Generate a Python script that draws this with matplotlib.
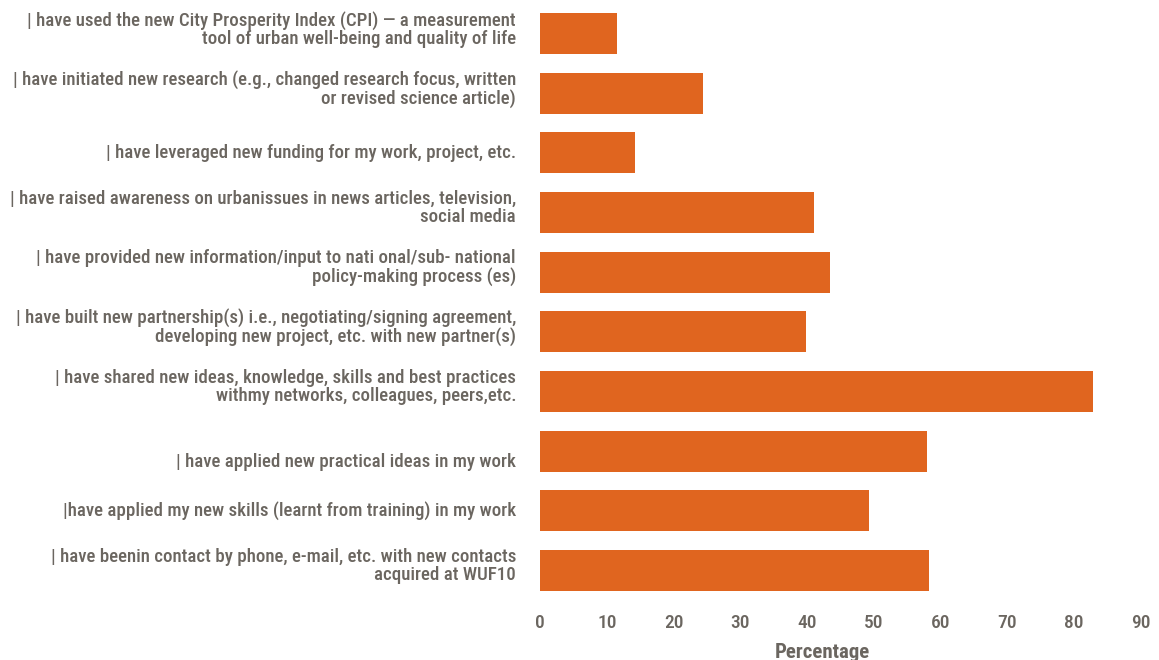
import matplotlib
matplotlib.use("Agg")
import matplotlib.pyplot as plt
from matplotlib import font_manager
from matplotlib.transforms import ScaledTranslation

names = {f.name for f in font_manager.fontManager.ttflist}
fam = [n for n in ["Roboto Condensed", "Liberation Sans Narrow", "Roboto"] if n in names]
plt.rcParams['font.family'] = fam + ["DejaVu Sans"]

categories = [
    "| have used the new City Prosperity Index (CPI) — a measurement\ntool of urban well-being and quality of life",
    "| have initiated new research (e.g., changed research focus, written\nor revised science article)",
    "| have leveraged new funding for my work, project, etc.",
    "| have raised awareness on urbanissues in news articles, television,\nsocial media",
    "| have provided new information/input to nati onal/sub- national\npolicy-making process (es)",
    "| have built new partnership(s) i.e., negotiating/signing agreement,\ndeveloping new project, etc. with new partner(s)",
    "| have shared new ideas, knowledge, skills and best practices\nwithmy networks, colleagues, peers,etc.",
    "| have applied new practical ideas in my work",
    "|have applied my new skills (learnt from training) in my work",
    "| have beenin contact by phone, e-mail, etc. with new contacts\nacquired at WUF10",
]
values = [11.5, 24.4, 14.3, 41.0, 43.5, 39.9, 82.8, 58.0, 49.2, 58.3]
xticks = [0, 10, 20, 30, 40, 50, 60, 70, 80, 90]

text_color = "#6b6660"
bar_color = "#E0651F"

fig = plt.figure(figsize=(11.59, 6.6), dpi=100)
ax = fig.add_axes([540/1159, 1-600.3/660, (1141-540)/1159, (600.3-3.7)/660])
y = list(range(len(categories)))
ax.barh(y, values, height=0.69, color=bar_color)
ax.set_ylim(len(categories)-0.5, -0.5)
ax.set_xlim(0, 90)
ax.set_yticks(y)
ax.set_yticklabels([])
ax.tick_params(axis='y', length=0)

# small vertical nudges (pixels) of label text, as in the reference layout
label_nudge = {7: -11.0}
base = ax.get_yaxis_transform()
for yi, lab in zip(y, categories):
    dy = 4.5 if "\n" in lab else 0.0
    dy += label_nudge.get(yi, 0.0)
    tr = base + ScaledTranslation(-24/100, dy/100, fig.dpi_scale_trans)
    ax.text(0, yi, lab, transform=tr, ha='right', va='center', ma='right',
            fontsize=13.6, color=text_color, linespacing=1.0, fontweight='medium',
            clip_on=False)

ax.set_xticks(xticks)
ax.set_xticklabels([str(t) for t in xticks], fontsize=14, color=text_color,
                   fontweight='medium')
ax.tick_params(axis='x', length=0, pad=10)
for s in ax.spines.values():
    s.set_visible(False)
ax.set_xlabel("Percentage", fontsize=15, fontweight='bold', color=text_color,
              labelpad=8, x=(822-540)/601)
fig.savefig("out.png", dpi=100)
